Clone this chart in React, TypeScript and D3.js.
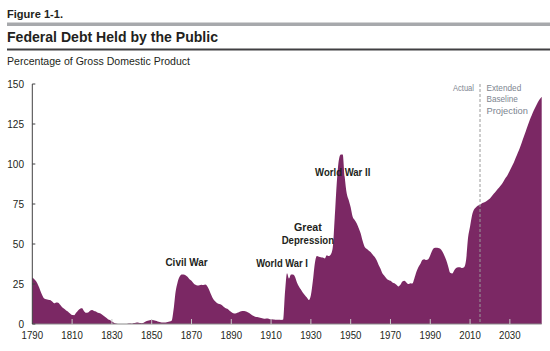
import * as d3 from 'd3';

const YEARS = [
  1790, 1791, 1792, 1793, 1794, 1795, 1796, 1797, 1798, 1799,
  1800, 1801, 1802, 1803, 1804, 1805, 1806, 1807, 1808, 1809,
  1810, 1811, 1812, 1813, 1814, 1815, 1816, 1817, 1818, 1819,
  1820, 1821, 1822, 1823, 1824, 1825, 1826, 1827, 1828, 1829,
  1830, 1831, 1832, 1833, 1834, 1835, 1836, 1837, 1838, 1839,
  1840, 1841, 1842, 1843, 1844, 1845, 1846, 1847, 1848, 1849,
  1850, 1851, 1852, 1853, 1854, 1855, 1856, 1857, 1858, 1859,
  1860, 1861, 1862, 1863, 1864, 1865, 1866, 1867, 1868, 1869,
  1870, 1871, 1872, 1873, 1874, 1875, 1876, 1877, 1878, 1879,
  1880, 1881, 1882, 1883, 1884, 1885, 1886, 1887, 1888, 1889,
  1890, 1891, 1892, 1893, 1894, 1895, 1896, 1897, 1898, 1899,
  1900, 1901, 1902, 1903, 1904, 1905, 1906, 1907, 1908, 1909,
  1910, 1911, 1912, 1913, 1914, 1915, 1916, 1917, 1918, 1919,
  1920, 1921, 1922, 1923, 1924, 1925, 1926, 1927, 1928, 1929,
  1930, 1931, 1932, 1933, 1934, 1935, 1936, 1937, 1938, 1939,
  1940, 1941, 1942, 1943, 1944, 1945, 1946, 1947, 1948, 1949,
  1950, 1951, 1952, 1953, 1954, 1955, 1956, 1957, 1958, 1959,
  1960, 1961, 1962, 1963, 1964, 1965, 1966, 1967, 1968, 1969,
  1970, 1971, 1972, 1973, 1974, 1975, 1976, 1977, 1978, 1979,
  1980, 1981, 1982, 1983, 1984, 1985, 1986, 1987, 1988, 1989,
  1990, 1991, 1992, 1993, 1994, 1995, 1996, 1997, 1998, 1999,
  2000, 2001, 2002, 2003, 2004, 2005, 2006, 2007, 2008, 2009,
  2010, 2011, 2012, 2013, 2014, 2015, 2016, 2017, 2018, 2019,
  2020, 2021, 2022, 2023, 2024, 2025, 2026, 2027, 2028, 2029,
  2030, 2031, 2032, 2033, 2034, 2035, 2036, 2037, 2038, 2039,
  2040, 2041, 2042, 2043, 2044, 2045, 2046,
];

// debt held by the public, % of GDP
const DEBT = [
  29, 28, 26.5, 24, 21, 18, 16, 15.5, 15.2, 15,
  14, 13, 13.5, 13.3, 12, 10.5, 9.5, 8.5, 7.7, 6.5,
  5.6, 5.5, 7, 8.5, 9.5, 9.8, 8, 7, 7.2, 8.3,
  8.7, 8.2, 7.8, 7, 6.7, 6, 5, 4, 3, 2.5,
  1.5, 0.8, 0.3, 0, 0, 0, 0, 0, 0.2, 0.3,
  0.2, 0.6, 0.8, 1, 0.6, 0.5, 0.8, 1.5, 2, 2.4,
  2.5, 2.3, 2, 1.6, 1.2, 1, 0.9, 0.9, 1.2, 1.6,
  2, 9, 20, 26, 29.5, 31, 31, 30.5, 29.5, 28,
  27, 25.5, 24.5, 24, 24.2, 24.5, 24.3, 24.7, 23.5, 21,
  18, 15.5, 14, 13, 12.5, 12, 11, 10, 9.5, 8.5,
  7.5, 6.7, 6.5, 7, 7.5, 8, 8.2, 8, 7.5, 6.8,
  6, 5.2, 4.6, 4.3, 4, 3.7, 3.5, 3.3, 3.4, 3.2,
  2.9, 2.8, 2.7, 2.6, 2.6, 2.5, 2.6, 20, 31.7, 28.5,
  31, 31, 29.6, 26, 23.5, 21.5, 19.5, 18, 16.5, 15,
  18, 27, 38, 42.5, 42, 41.7, 41.5, 41, 43, 42.5,
  43.5, 48, 67, 88, 102, 106, 106, 92, 81.7, 77.5,
  73, 67, 65, 63, 60, 56.7, 52, 48.3, 47, 46,
  45, 43.5, 42, 40, 37, 34.5, 31.5, 30, 28.5, 27.5,
  27, 26, 25.5, 24.5, 23.5, 24.5, 26.5, 27, 26, 25,
  25.5, 25.3, 28.5, 32.5, 35.5, 37.5, 40, 40.5, 40, 40.5,
  43, 46, 47.5, 47.7, 47.5, 47, 45.5, 43, 40, 36,
  32, 31.5, 33.5, 35, 35.5, 35.5, 35, 35.5, 40, 54,
  61, 68, 71.5, 73, 74, 74.5, 75.5, 76, 76.5, 77.5,
  78.5, 80, 81.5, 83, 84.5, 86, 87.5, 89.5, 91.5, 93.5,
  96, 98.5, 101, 104, 107, 110, 113.5, 117, 120.5, 124,
  127.5, 130.5, 133.5, 136, 138.5, 140.5, 142,
];

const Y_TICKS = [0, 25, 50, 75, 100, 125, 150];
const X_TICKS = [1790, 1810, 1830, 1850, 1870, 1890, 1910, 1930, 1950, 1970, 1990, 2010, 2030];

const ACTUAL_END = 2015;

const EVENTS = [
  { lines: ['Civil War'], year: 1867.5, value: 36 },
  { lines: ['World War I'], year: 1915.5, value: 35.5 },
  { lines: ['Great', 'Depression'], year: 1928.5, value: 58 },
  { lines: ['World War II'], year: 1946, value: 92.5 },
];

const PURPLE = '#7b2864';
const FONT = "'Liberation Sans', Arial, sans-serif";
const INK = '#231f20';

// rough width of the condensed face used in the original, per px of font size
function squeeze(s: string, size: number, bold = false) {
  const per = bold ? 0.46 : 0.42;
  let w = 0;
  for (const c of s) {
    if (c === ' ') w += 0.22;
    else if (c === '.' || c === 'i' || c === 'l' || c === 'I' || c === '1' || c === '-') w += bold ? 0.3 : 0.25;
    else if (/[0-9]/.test(c)) w += 0.45;
    else if (/[A-Z]/.test(c)) w += per + 0.12;
    else w += per;
  }
  return w * size;
}

export default function App() {
  const width = 550;
  const height = 351;
  const x = d3.scaleLinear().domain([1790, 2046]).range([32.3, 541.7]);
  const y = d3.scaleLinear().domain([0, 150]).range([324, 84]);

  const rows = YEARS.map((yr, i) => ({ yr, v: DEBT[i] }));
  const area = d3
    .area<{ yr: number; v: number }>()
    .x((d) => x(d.yr))
    .y0(y(0))
    .y1((d) => y(d.v))
    .curve(d3.curveMonotoneX);

  return (
    <svg
      width={width}
      height={height}
      style={{ position: 'absolute', left: 0, top: 0, background: '#fff' }}
      fontFamily={FONT}
    >
      {/* header */}
      <text x={7} y={18} fontSize={11.5} fontWeight="bold" fill={INK} textLength={56} lengthAdjust="spacingAndGlyphs">
        Figure 1-1.
      </text>
      <rect x={7} y={22.5} width={543} height={3.5} fill="#a7a9ac" />
      <text x={7} y={41.5} fontSize={14.5} fontWeight="bold" fill={INK} textLength={211} lengthAdjust="spacingAndGlyphs">
        Federal Debt Held by the Public
      </text>
      <rect x={7} y={48.5} width={543} height={2} fill="#414042" />
      <text x={7} y={64.5} fontSize={11} fill={INK} textLength={183} lengthAdjust="spacingAndGlyphs">
        Percentage of Gross Domestic Product
      </text>

      <path d={area(rows) ?? ''} fill={PURPLE} />

      {/* x axis */}
      <line x1={x(1790)} x2={x(2046)} y1={y(0)} y2={y(0)} stroke="#8a8a8a" strokeWidth={1} />
      {X_TICKS.filter((t) => t !== 1790).map((t) => (
        <line key={t} x1={x(t)} x2={x(t)} y1={y(0)} y2={y(0) - 5} stroke="#c8c8c8" strokeWidth={1} />
      ))}
      {X_TICKS.map((t) => (
        <text key={t} x={x(t)} y={338.5} fontSize={11.5} textAnchor="middle" fill={INK} textLength={21.5} lengthAdjust="spacingAndGlyphs">
          {t}
        </text>
      ))}

      {/* y axis */}
      <line x1={x(1790)} x2={x(1790)} y1={y(150)} y2={y(0)} stroke="#414042" strokeWidth={1} />
      {Y_TICKS.map((t) => (
        <g key={t}>
          <line x1={x(1790)} x2={x(1790) + 3} y1={y(t)} y2={y(t)} stroke="#414042" strokeWidth={1} />
          <text
            x={24}
            y={y(t)}
            dy="0.35em"
            fontSize={11}
            textAnchor="end"
            fill={INK}
            textLength={String(t).length * 5.6}
            lengthAdjust="spacingAndGlyphs"
          >
            {t}
          </text>
        </g>
      ))}

      {/* actual / projection divider */}
      <line
        x1={x(ACTUAL_END)}
        x2={x(ACTUAL_END)}
        y1={y(150)}
        y2={y(0)}
        stroke="#9a9a9a"
        strokeWidth={1}
        strokeDasharray="3,2"
      />
      <text x={x(ACTUAL_END) - 6} y={90.5} fontSize={9.5} textAnchor="end" fill="#7d8590" textLength={21} lengthAdjust="spacingAndGlyphs">
        Actual
      </text>
      {['Extended', 'Baseline', 'Projection'].map((s, i) => (
        <text
          key={s}
          x={x(ACTUAL_END) + 6.5}
          y={90.5 + i * 11.5}
          fontSize={9.5}
          fill="#7d8590"
          textLength={squeeze(s, 9.5) * 1.05}
          lengthAdjust="spacingAndGlyphs"
        >
          {s}
        </text>
      ))}

      {/* event labels */}
      {EVENTS.map((e) =>
        e.lines.map((s, i) => (
          <text
            key={s}
            x={x(e.year)}
            y={y(e.value) + i * 12.5}
            fontSize={11.5}
            fontWeight="bold"
            textAnchor="middle"
            fill={INK}
            textLength={squeeze(s, 11.5, true)}
            lengthAdjust="spacingAndGlyphs"
          >
            {s}
          </text>
        )),
      )}
    </svg>
  );
}
